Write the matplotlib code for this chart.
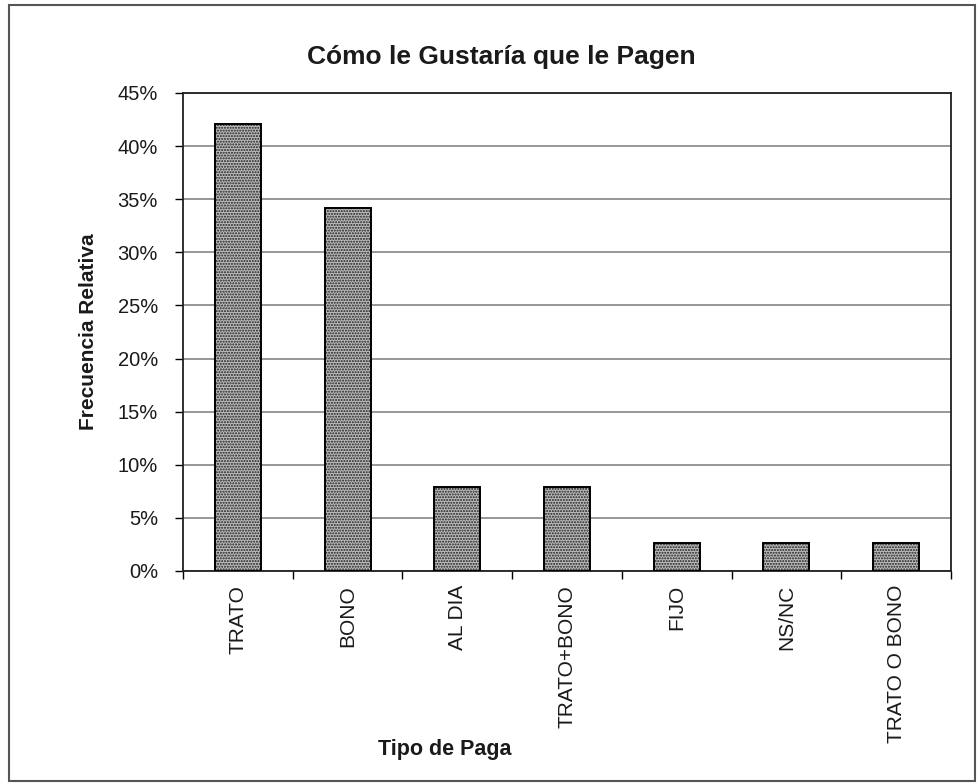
"""Gráfico de barras: cómo le gustaría que le paguen (frecuencia relativa)."""

import matplotlib

matplotlib.use("Agg")
import matplotlib.pyplot as plt
from matplotlib.patches import Rectangle
from matplotlib.ticker import FixedLocator, FuncFormatter

plt.rcParams["font.family"] = ["Liberation Sans", "DejaVu Sans"]
plt.rcParams["hatch.linewidth"] = 1.0

# datos
categorias = ["TRATO", "BONO", "AL DIA", "TRATO+BONO", "FIJO", "NS/NC", "TRATO O BONO"]
frecuencia = [42.1, 34.2, 7.9, 7.9, 2.6, 2.6, 2.6]  # %
ticks_y = [0, 5, 10, 15, 20, 25, 30, 35, 40, 45]

W, H = 978, 783
fig = plt.figure(figsize=(W / 100, H / 100), dpi=100)

# marco exterior del gráfico
fig.patches.append(Rectangle((9 / W, 2 / H), 966 / W, 776 / H, transform=fig.transFigure,
                             fill=False, edgecolor="#555555", lw=1.5))

ax = fig.add_axes([183 / W, 212 / H, 768 / W, 478 / H])

centros = [i + 0.5 for i in range(len(categorias))]
ax.bar(centros, frecuencia, width=0.42, facecolor="#bcbcbc", edgecolor="#1e1e1e",
       hatch="......", lw=0, zorder=3)
ax.bar(centros, frecuencia, width=0.42, fill=False, edgecolor="black", lw=1.4, zorder=4)

ax.set_xlim(0, len(categorias))
ax.set_ylim(0, 45)

# ticks en los bordes de categoría, etiquetas en los centros
ax.xaxis.set_major_locator(FixedLocator(range(len(categorias) + 1)))
ax.xaxis.set_major_formatter(FuncFormatter(lambda v, p: ""))
ax.xaxis.set_minor_locator(FixedLocator(centros))
ax.set_xticklabels(categorias, minor=True, rotation=90, fontsize=15, color="#1a1a1a")
ax.tick_params(axis="x", which="major", length=6, width=1, direction="out")
ax.tick_params(axis="x", which="minor", length=0, pad=10)

ax.set_yticks(ticks_y)
ax.yaxis.set_major_formatter(FuncFormatter(lambda v, p: f"{v:.0f}%"))
ax.tick_params(axis="y", length=6, width=1, pad=12, labelsize=14.5, labelcolor="#1a1a1a")

ax.grid(axis="y", color="#7a7a7a", lw=1.1, zorder=1)
for s in ax.spines.values():
    s.set_color("#202020")
    s.set_linewidth(1.3)

fig.text(501 / W, 1 - 57 / H, "Cómo le Gustaría que le Pagen", ha="center", va="center",
         fontsize=19, fontweight="bold", color="#1a1a1a")
fig.text(445 / W, 1 - 750 / H, "Tipo de Paga", ha="center", va="center",
         fontsize=15.5, fontweight="bold", color="#1a1a1a")
fig.text(88 / W, 1 - 332 / H, "Frecuencia Relativa", ha="center", va="center", rotation=90,
         fontsize=15, fontweight="bold", color="#1a1a1a")

fig.savefig("out.png", dpi=100)
